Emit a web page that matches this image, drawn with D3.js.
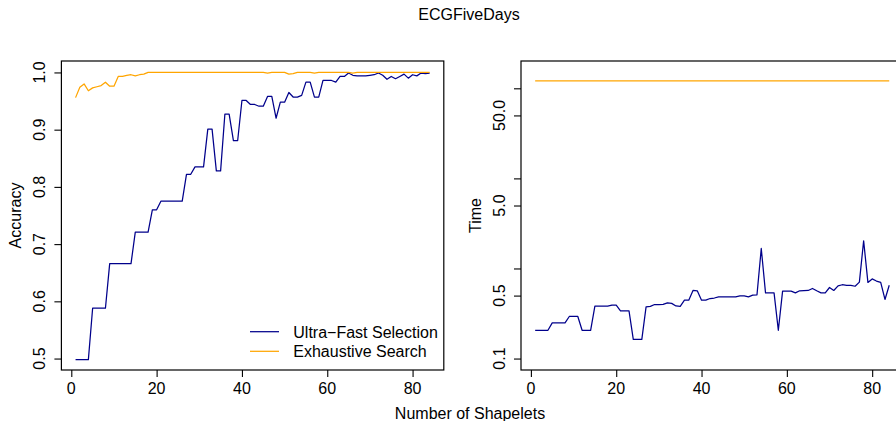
<!DOCTYPE html>
<html>
<head>
<meta charset="utf-8">
<script src="https://cdn.jsdelivr.net/npm/d3@7"></script>
<style>
  body { margin: 0; background: #fff; }
  svg { display: block; font-family: "Liberation Sans", Arial, Helvetica, sans-serif; }
</style>
</head>
<body>
<div id="chartHolder"></div>
<script>
// values
const shapelets = d3.range(1, 85); // 1..84

const accUltra = [
  0.498, 0.498, 0.498, 0.498, 0.588, 0.588, 0.588, 0.588, 0.666, 0.666,
  0.666, 0.666, 0.666, 0.666, 0.721, 0.721, 0.721, 0.721, 0.760, 0.760,
  0.775, 0.775, 0.775, 0.775, 0.775, 0.775, 0.822, 0.822, 0.835, 0.835,
  0.835, 0.901, 0.901, 0.828, 0.828, 0.927, 0.927, 0.881, 0.881, 0.951,
  0.951, 0.944, 0.944, 0.941, 0.941, 0.958, 0.958, 0.920, 0.948, 0.948,
  0.965, 0.957, 0.957, 0.960, 0.983, 0.983, 0.957, 0.957, 0.986, 0.986,
  0.986, 0.983, 0.993, 0.993, 0.999, 0.995, 0.994, 0.994, 0.994, 0.995,
  0.996, 0.999, 0.995, 0.988, 0.993, 0.989, 0.993, 0.997, 0.990, 0.996,
  0.994, 0.999, 0.998, 0.999
];

const accExhaustive = [
  0.956, 0.974, 0.980, 0.968, 0.973, 0.975, 0.977, 0.983, 0.976, 0.976,
  0.993, 0.993, 0.995, 0.996, 0.994, 0.996, 0.997, 1.000, 1.000, 1.000,
  1.000, 1.000, 1.000, 1.000, 1.000, 1.000, 1.000, 1.000, 1.000, 1.000,
  1.000, 1.000, 1.000, 1.000, 1.000, 1.000, 1.000, 1.000, 1.000, 1.000,
  1.000, 1.000, 1.000, 1.000, 1.000, 0.999, 1.000, 1.000, 1.000, 1.000,
  0.997, 0.998, 1.000, 1.000, 1.000, 1.000, 0.999, 1.000, 1.000, 1.000,
  1.000, 1.000, 1.000, 1.000, 1.000, 0.999, 1.000, 1.000, 1.000, 1.000,
  1.000, 1.000, 1.000, 1.000, 1.000, 1.000, 1.000, 1.000, 1.000, 1.000,
  1.000, 1.000, 1.000, 1.000
];

const timeUltra = [
  0.206, 0.206, 0.206, 0.206, 0.249, 0.249, 0.249, 0.249, 0.293, 0.293,
  0.293, 0.206, 0.206, 0.206, 0.381, 0.381, 0.381, 0.381, 0.391, 0.391,
  0.338, 0.338, 0.338, 0.163, 0.163, 0.163, 0.374, 0.380, 0.398, 0.398,
  0.400, 0.415, 0.410, 0.384, 0.380, 0.445, 0.445, 0.570, 0.565, 0.445,
  0.445, 0.464, 0.470, 0.483, 0.483, 0.483, 0.483, 0.483, 0.495, 0.495,
  0.483, 0.505, 0.510, 1.667, 0.536, 0.536, 0.536, 0.206, 0.560, 0.560,
  0.560, 0.536, 0.565, 0.568, 0.570, 0.600, 0.565, 0.536, 0.536, 0.615,
  0.570, 0.641, 0.660, 0.650, 0.650, 0.635, 0.705, 2.030, 0.700, 0.766,
  0.725, 0.700, 0.453, 0.652
];

const timeExhaustive = [
  121, 121, 121, 121, 121, 121, 121, 121, 121, 121,
  121, 121, 121, 121, 121, 121, 121, 121, 121, 121,
  121, 121, 121, 121, 121, 121, 121, 121, 121, 121,
  121, 121, 121, 121, 121, 121, 121, 121, 121, 121,
  121, 121, 121, 121, 121, 121, 121, 121, 121, 121,
  121, 121, 121, 121, 121, 121, 121, 121, 121, 121,
  121, 121, 121, 121, 121, 121, 121, 121, 121, 121,
  121, 121, 121, 121, 121, 121, 121, 121, 121, 121,
  121, 121, 121, 121
];

const xTicks = [0, 20, 40, 60, 80];
const accTicks = [0.5, 0.6, 0.7, 0.8, 0.9, 1.0];
const timeTicks = [0.1, 0.5, 1, 5, 10, 50, 100];
const timeTickLabels = [0.1, 0.5, 5, 50];
const seriesNames = ["Ultra\u2212Fast Selection", "Exhaustive Search"];
const seriesColors = ["#00008B", "#FFA500"];

const width = 896;
const height = 421;
const fontSize = 16;

// R style 4% padding on the limits
function pad(lo, hi) {
  const d = (hi - lo) * 0.04;
  return [lo - d, hi + d];
}

const svg = d3.select("#chartHolder")
  .append("svg")
    .attr("width", width)
    .attr("height", height);

const plotTop = 61, plotBottom = 370;
const xDomain = pad(1, 84);

function panel(left, right, y, yTicks, labelTicks, fmt, yTitle, series) {
  const xs = d3.scaleLinear().domain(xDomain).range([left, right]);
  const g = svg.append("g");

  const line = d3.line()
    .x((d, i) => xs(shapelets[i]))
    .y(d => y(d));

  series.forEach((s, k) => {
    g.append("path")
      .datum(s)
      .attr("fill", "none")
      .attr("stroke", seriesColors[k])
      .attr("stroke-width", 1.25)
      .attr("stroke-linejoin", "round")
      .attr("d", line);
  });

  // box
  g.append("rect")
    .attr("x", left).attr("y", plotTop)
    .attr("width", right - left).attr("height", plotBottom - plotTop)
    .attr("fill", "none").attr("stroke", "#000").attr("stroke-width", 1.2);

  // x axis
  g.append("g")
    .attr("transform", `translate(0,${plotBottom})`)
    .call(d3.axisBottom(xs).tickValues(xTicks).tickSize(7).tickPadding(0).tickFormat(""))
    .call(a => a.select(".domain").remove())
    .call(a => a.selectAll("line").attr("stroke-width", 1.1));
  g.selectAll(".xlab")
    .data(xTicks)
    .join("text")
      .attr("x", d => xs(d))
      .attr("y", 394)
      .attr("text-anchor", "middle")
      .attr("font-size", fontSize)
      .text(d => d);

  // y axis
  g.append("g")
    .attr("transform", `translate(${left},0)`)
    .call(d3.axisLeft(y).tickValues(yTicks).tickSize(7).tickFormat(""))
    .call(a => a.select(".domain").remove())
    .call(a => a.selectAll("line").attr("stroke-width", 1.1));
  g.selectAll(".ylab")
    .data(labelTicks)
    .join("text")
      .attr("transform", d => `translate(${left - 16.3},${y(d)}) rotate(-90)`)
      .attr("text-anchor", "middle")
      .attr("font-size", fontSize)
      .text(fmt);

  g.append("text")
    .attr("transform", `translate(${left - 40.5},${(plotTop + plotBottom) / 2}) rotate(-90)`)
    .attr("text-anchor", "middle")
    .attr("font-size", fontSize)
    .text(yTitle);

  return xs;
}

// left: accuracy
const yAcc = d3.scaleLinear().domain(pad(0.5, 1.0)).range([plotBottom, plotTop]);
panel(61.4, 443.8, yAcc, accTicks, accTicks, d3.format(".1f"), "Accuracy",
  [accUltra, accExhaustive]);

// right: time on a log axis
const lp = pad(Math.log10(0.1), Math.log10(150));
const yTime = d3.scaleLog().domain([10 ** lp[0], 10 ** lp[1]]).range([plotBottom, plotTop]);
panel(521, 903.4, yTime, timeTicks, timeTickLabels, d3.format(".1f"), "Time",
  [timeUltra, timeExhaustive]);

// legend
const legend = svg.append("g");
seriesNames.forEach((name, k) => {
  const ly = 331.7 + k * 19.6;
  legend.append("line")
    .attr("x1", 250).attr("x2", 279)
    .attr("y1", ly).attr("y2", ly)
    .attr("stroke", seriesColors[k])
    .attr("stroke-width", 1.25);
  legend.append("text")
    .attr("x", 293.3)
    .attr("y", ly + 5.8)
    .attr("font-size", fontSize)
    .text(name);
});

// titles
svg.append("text")
  .attr("x", 469).attr("y", 20)
  .attr("text-anchor", "middle")
  .attr("font-size", fontSize)
  .text("ECGFiveDays");

svg.append("text")
  .attr("x", 470).attr("y", 418.5)
  .attr("text-anchor", "middle")
  .attr("font-size", fontSize)
  .text("Number of Shapelets");
</script>
</body>
</html>
